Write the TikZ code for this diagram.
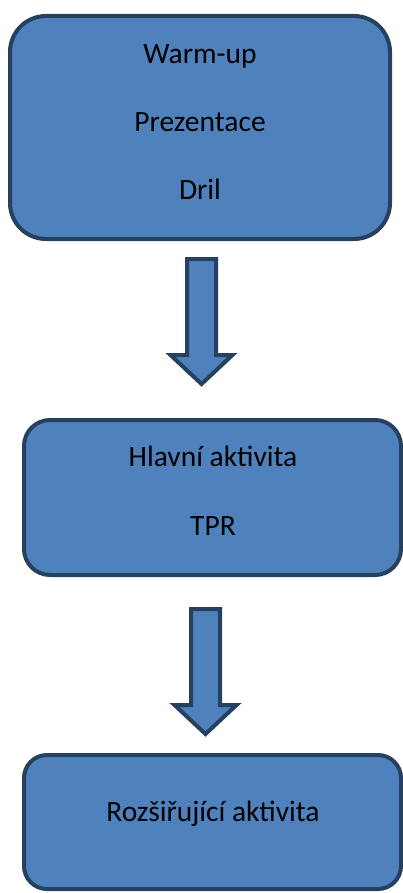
\documentclass[tikz,border=0pt]{standalone}
\usepackage{fontspec}
\setmainfont{Carlito}
\definecolor{myfill}{RGB}{79,129,189}
\definecolor{myborder}{RGB}{38,64,96}

\begin{document}
\begin{tikzpicture}[x=1pt,y=-1pt,
    stagebox/.style={draw=myborder,fill=myfill,line width=4pt,inner sep=0pt},
    stagetext/.style={anchor=base,font=\fontsize{29.5}{36}\selectfont,inner sep=0pt},
    blockarrow/.style={draw=myborder,fill=myfill,line width=4pt,line join=miter}]
  \useasboundingbox (0,0) rectangle (403,893);
  % boxes
  \node[stagebox,rounded corners=36pt,minimum width=380pt,minimum height=223pt] (first) at (200,127.5) {};
  \node[stagebox,rounded corners=26pt,minimum width=377pt,minimum height=155pt] (main) at (212.5,497.5) {};
  \node[stagebox,rounded corners=23pt,minimum width=377pt,minimum height=134pt] (extra) at (212.5,822) {};
  % texts
  \node[stagetext] (warmup) at (200,64) {Warm-up};
    \node[stagetext] (prez) at (200,132) {Prezentace};
    \node[stagetext] (dril) at (200,200) {Dril};
  \node[stagetext] (hlavni) at (213,466) {Hlavní aktivita};
    \node[stagetext] (tpr) at (213,535) {TPR};
  \node[stagetext] (rozs) at (213,821) {Rozšiřující aktivita};
  % arrows
  \draw[blockarrow] (187,259) -- (216,259) -- (216,355) -- (232.5,355)
    -- (201.5,384) -- (170.5,355) -- (187,355) -- cycle;
  \draw[blockarrow] (191,609) -- (220,609) -- (220,705) -- (236.5,705)
    -- (205.5,734) -- (174.5,705) -- (191,705) -- cycle;
\end{tikzpicture}
\end{document}
